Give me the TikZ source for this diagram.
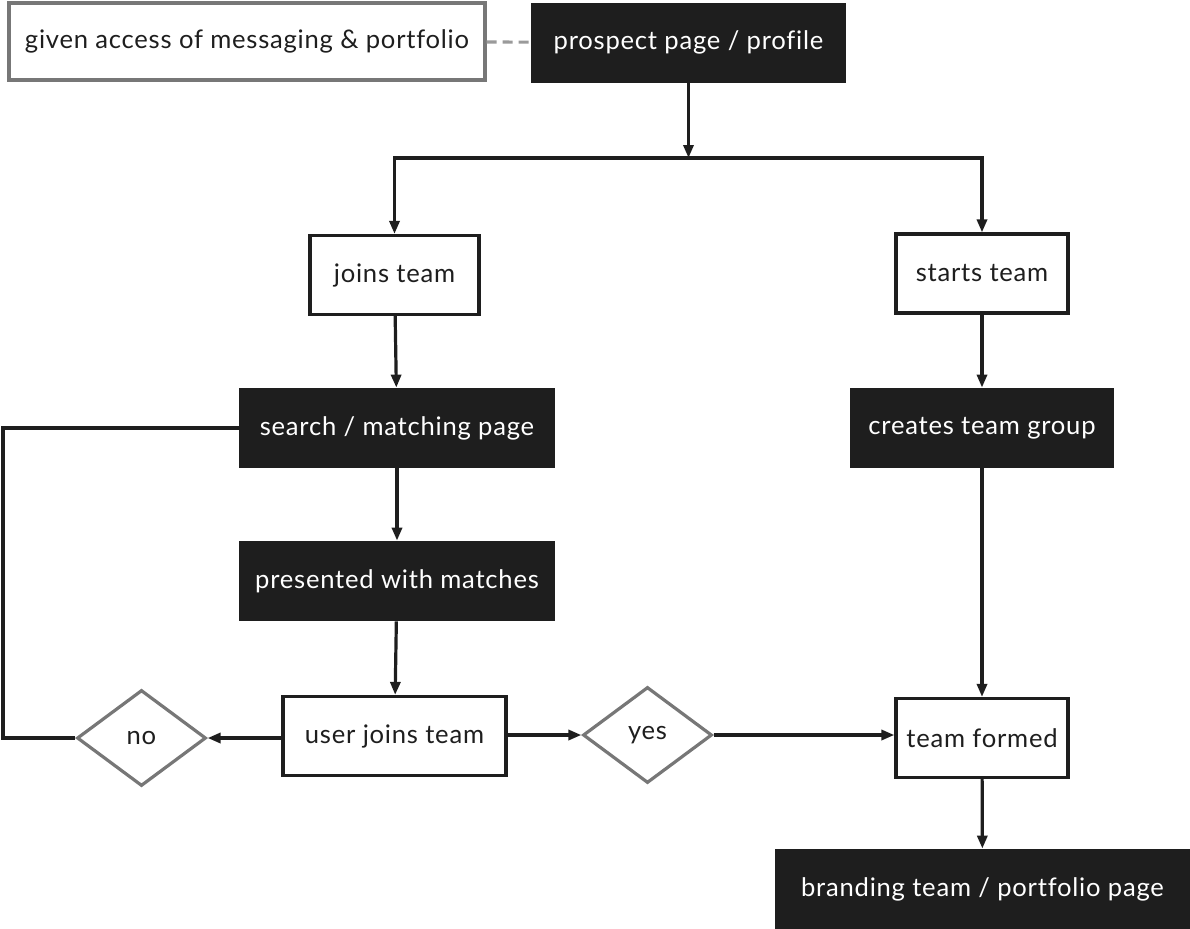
\documentclass[tikz,border=0pt]{standalone}
\usepackage{fontspec}
\setmainfont[LetterSpace=3,Ligatures=CommonOff]{Lato}
\usetikzlibrary{arrows.meta,positioning,shapes.geometric}
\definecolor{ink}{HTML}{1E1E1E}
\definecolor{rim}{HTML}{777777}
\definecolor{dashgrey}{HTML}{9A9A9A}

\begin{document}
\begin{tikzpicture}[x=0.5pt,y=-0.5pt,>={Triangle[length=6.5pt,width=5pt]},
   every node/.style={font=\fontsize{12.8}{15}\selectfont,inner sep=0pt},
   dark/.style={fill=ink,text=white,minimum width=#1,minimum height=40pt},
   plain/.style={draw=ink,line width=1.6pt,fill=white,text=ink,minimum width=#1,minimum height=39.5pt},
   note/.style={draw=rim,line width=1.6pt,text=ink,minimum width=#1,minimum height=38.5pt},
   choice/.style={diamond,draw=rim,line width=1.6pt,text=ink,minimum width=64.5pt,minimum height=48pt},
   flow/.style={->,draw=ink,line width=1.6pt}]
  \useasboundingbox (0,0) rectangle (1190,928);
  % boxes
  \node[note=238pt] (given) at (247,41.5) {given access of messaging \& portfolio};
  \node[dark=157.5pt] (prospect) at (688.5,42.5) {prospect page / profile};
  \node[plain=84.5pt] (joins) at (394.5,275) {joins team};
  \node[plain=86pt] (starts) at (982,273.5) {starts team};
  \node[dark=158pt] (search) at (397,428) {search / matching page};
  \node[dark=132pt] (creates) at (982,428) {creates team group};
  \node[dark=158pt] (presented) at (397,581) {presented with matches};
  \node[plain=111.5pt] (user) at (394.5,736) {user joins team};
  \node[choice] (no) at (141.5,738) {no};
  \node[choice] (yes) at (647.5,735) {yes};
  \node[plain=86pt] (formed) at (982,738) {team formed};
  \node[dark=207.5pt] (branding) at (982.5,889) {branding team / portfolio page};
  \coordinate (split) at (688.5,158);
  \coordinate (loop) at (3,738);
  % connectors
  \draw[dashgrey,line width=1.6pt,dash pattern=on 5pt off 3pt] (given) -- (prospect);
  \draw[flow] (prospect) -- (split);
  \draw[flow] (split) -| (joins);
  \draw[flow] (split) -| (starts);
  \draw[flow] (joins) -- (search);
  \draw[flow] (search) -- (presented);
  \draw[flow] (presented) -- (user);
  \draw[flow] (starts) -- (creates);
  \draw[flow] (creates) -- (formed);
  \draw[flow] (formed) -- (branding);
  \draw[flow] (no.east -| user.west) -- (no.east);
  \draw[flow] (user.east |- yes.west) -- (yes.west);
  \draw[flow] (yes.east) -- (yes.east -| formed.west);
  \draw[ink,line width=1.6pt] (search.west) -| (loop) -- (no.west);
\end{tikzpicture}
\end{document}
